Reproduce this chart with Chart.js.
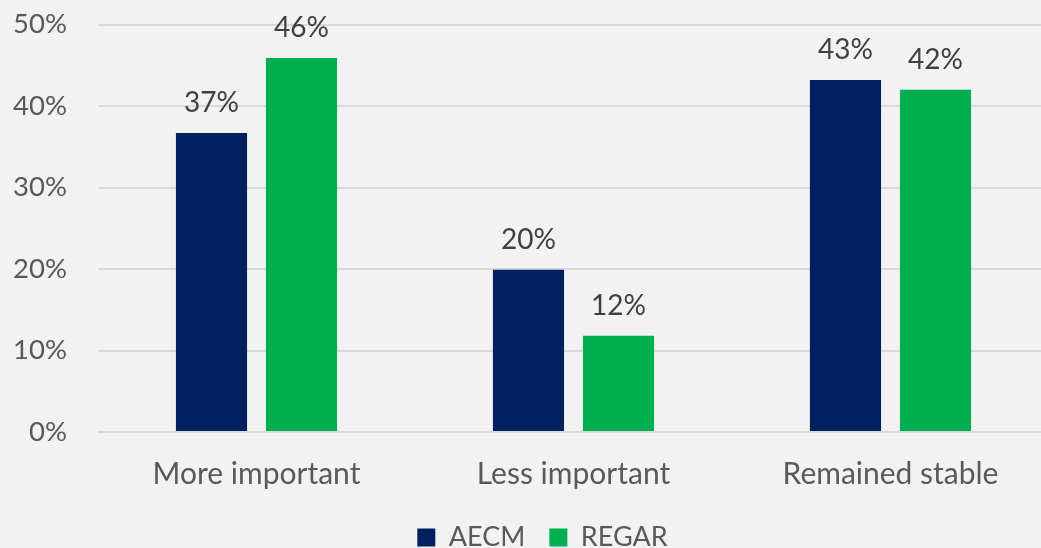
<!DOCTYPE html>
<html>
<head>
<meta charset="utf-8">
<script src="https://cdn.jsdelivr.net/npm/chart.js@4/dist/chart.umd.min.js"></script>
<style>
  html, body { margin: 0; padding: 0; background: #f2f2f2; overflow: hidden; width: 1041px; height: 548px; }
  #wrap { position: relative; top: -23px; width: 1050px; height: 584px; }
</style>
</head>
<body>
<div id="wrap"><canvas id="chart"></canvas></div>
<script>
const categories = ['More important', 'Less important', 'Remained stable'];
const aecmValues = [36.7, 19.9, 43.2];
const regarValues = [45.9, 11.8, 42.0];
const yTicks = [0, 10, 20, 30, 40, 50];

const FONT = 'Lato, "Open Sans", sans-serif';

// draws "37%" style labels above each bar
const barLabels = {
    id: 'barLabels',
    afterDatasetsDraw(chart) {
        const ctx = chart.ctx;
        ctx.save();
        ctx.font = '28px ' + FONT;
        ctx.fillStyle = '#404040';
        ctx.textAlign = 'center';
        ctx.textBaseline = 'middle';
        chart.data.datasets.forEach((ds, i) => {
            chart.getDatasetMeta(i).data.forEach((bar, j) => {
                ctx.fillText(Math.round(ds.data[j]) + '%', bar.x, bar.y - 30);
            });
        });
        ctx.restore();
    }
};

// legend sits a bit right of the canvas centre in the original
const legendShift = {
    id: 'legendShift',
    afterLayout(chart) {
        if (chart.legend) chart.legend.left += 36;
    }
};

new Chart(document.getElementById('chart'), {
    type: 'bar',
    data: {
        labels: categories,
        datasets: [
            { label: 'AECM', data: aecmValues, backgroundColor: '#002060' },
            { label: 'REGAR', data: regarValues, backgroundColor: '#00b050' }
        ]
    },
    options: {
        responsive: true,
        maintainAspectRatio: false,
        animation: false,
        layout: { padding: { top: 0, right: 1, left: 0, bottom: 0 } },
        datasets: { bar: { categoryPercentage: 0.568, barPercentage: 0.79 } },
        plugins: {
            legend: {
                position: 'bottom',
                labels: {
                    color: '#595959',
                    font: { family: FONT, size: 27 },
                    boxWidth: 18,
                    boxHeight: 18,
                    padding: 24
                }
            },
            tooltip: { enabled: false }
        },
        scales: {
            x: {
                grid: { display: false, drawTicks: false },
                border: { display: false },
                ticks: { color: '#595959', font: { family: FONT, size: 30 }, padding: 24 },
                afterFit(scale) { scale.height = 68; }
            },
            y: {
                min: 0,
                max: 50,
                afterBuildTicks(scale) { scale.ticks = yTicks.map(v => ({ value: v })); },
                grid: { color: '#d9d9d9', lineWidth: 2, drawTicks: false },
                border: { display: false },
                ticks: {
                    color: '#595959',
                    font: { family: FONT, size: 27.5 },
                    padding: 31,
                    callback: v => v + '%'
                },
                afterFit(scale) { scale.width = 98; }
            }
        }
    },
    plugins: [barLabels, legendShift]
});
</script>
</body>
</html>
